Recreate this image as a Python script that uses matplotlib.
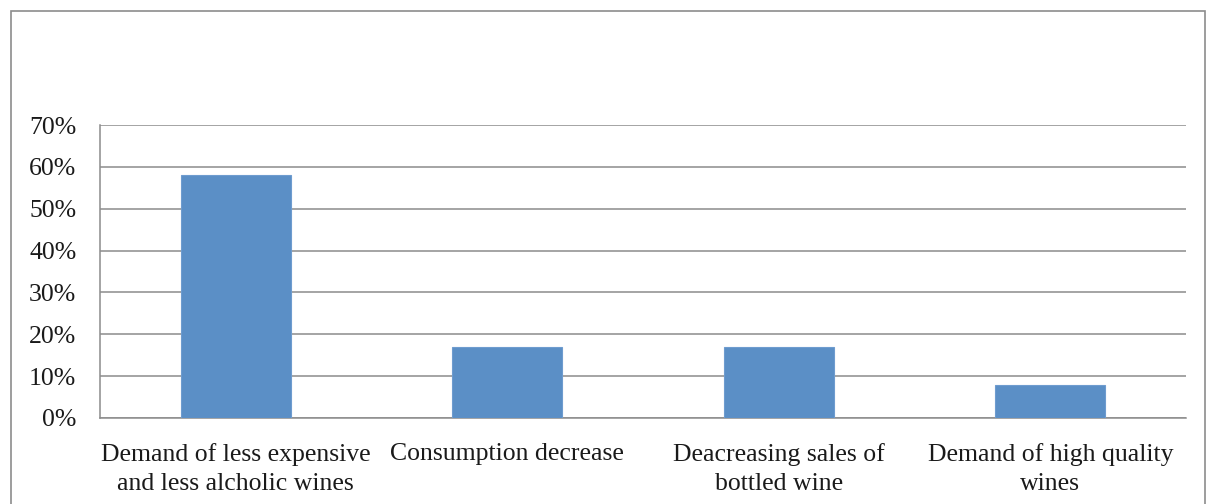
import numpy as np
import matplotlib.pyplot as plt
from matplotlib.patches import Rectangle

categories = ['Demand of less expensive\nand less alcholic wines',
              'Consumption decrease',
              'Deacreasing sales of\nbottled wine',
              'Demand of high quality\nwines']
values = [0.58, 0.17, 0.17, 0.08]
yticks = [0, 0.1, 0.2, 0.3, 0.4, 0.5, 0.6, 0.7]

plt.rcParams['font.family'] = ['Liberation Serif', 'DejaVu Serif']

W, H = 1207, 504
fig = plt.figure(figsize=(W / 100, H / 100), dpi=100)
ax = fig.add_axes([100 / W, 1 - 418 / H, (1186 - 100) / W, (418 - 125) / H])

# outer chart frame (bottom edge is cut off in the reference)
fig.add_artist(Rectangle((11 / W, -0.1), (1205 - 11) / W, 1 - 11 / H + 0.1,
                         transform=fig.transFigure, fill=False,
                         edgecolor='#8c8c8c', linewidth=1.2))

x = np.arange(len(categories))
ax.bar(x, values, width=0.405, color='#5b8fc6', edgecolor='#6e9ccf',
       linewidth=0.8, zorder=3)

ax.set_xlim(-0.5, len(categories) - 0.5)
ax.set_ylim(0, 0.7)
ax.set_yticks(yticks)
ax.set_yticklabels(['%d%%' % round(v * 100) for v in yticks])
ax.set_xticks(x)
ax.set_xticklabels(categories, linespacing=1.4)
ax.yaxis.grid(True, color='#8c8c8c', linewidth=1.1, zorder=0)

for side in ['top', 'right']:
    ax.spines[side].set_visible(False)
for side in ['left', 'bottom']:
    ax.spines[side].set_color('#8c8c8c')
    ax.spines[side].set_linewidth(1.1)

ax.tick_params(axis='y', length=0, pad=17, labelsize=18.5, colors='#1a1a1a')
ax.tick_params(axis='x', length=0, pad=18, labelsize=18.5, colors='#1a1a1a')

fig.savefig('out.png', dpi=100)
